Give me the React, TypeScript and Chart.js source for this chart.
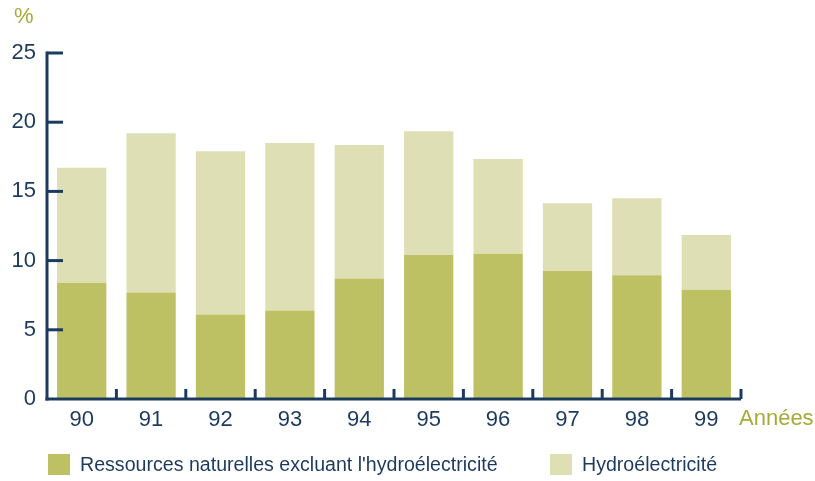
import React, { useEffect, useRef } from "react";
import { Chart, registerables } from "chart.js";

Chart.register(...registerables);

const categories = ["90", "91", "92", "93", "94", "95", "96", "97", "98", "99"];
const naturalResources = [8.4, 7.7, 6.1, 6.4, 8.7, 10.4, 10.5, 9.25, 8.95, 7.9];
const hydro = [8.3, 11.5, 11.8, 12.1, 9.65, 8.95, 6.85, 4.9, 5.55, 3.95];
const yTicks = [0, 5, 10, 15, 20, 25];
const seriesLabels = ["Ressources naturelles excluant l'hydroélectricité", "Hydroélectricité"];
const yUnit = "%";
const xTitle = "Années";

const NAVY = "#1c3a5e";
const OLIVE = "#a4ab38";
const GREEN = "#bdc163";
const LIGHT = "#dfdfb5";
const FONT = "'Liberation Sans', Arial, Helvetica, sans-serif";

export default function App() {
  const ref = useRef<HTMLCanvasElement>(null);
  useEffect(() => {
    const axisPlugin = {
      id: "axisPlugin",
      afterDraw(chart: any) {
        const ctx = chart.ctx;
        const ca = chart.chartArea;
        const x = chart.scales.x;
        const y = chart.scales.y;
        ctx.save();
        ctx.strokeStyle = NAVY;
        ctx.lineWidth = 3;
        ctx.lineCap = "butt";
        // y axis
        ctx.beginPath();
        ctx.moveTo(ca.left, y.getPixelForValue(25) - 1.5);
        ctx.lineTo(ca.left, ca.bottom + 1.5);
        ctx.stroke();
        // x axis
        ctx.beginPath();
        ctx.moveTo(ca.left - 1.5, ca.bottom);
        ctx.lineTo(ca.right, ca.bottom);
        ctx.stroke();
        // y ticks inward
        yTicks.forEach((v) => {
          if (v === 0) return;
          const py = y.getPixelForValue(v);
          ctx.beginPath();
          ctx.moveTo(ca.left, py);
          ctx.lineTo(ca.left + 16, py);
          ctx.stroke();
        });
        // x ticks at category boundaries
        const step = x.getPixelForValue(1) - x.getPixelForValue(0);
        for (let i = 0; i < categories.length; i++) {
          const px = x.getPixelForValue(i) + step / 2;
          ctx.beginPath();
          ctx.moveTo(px, ca.bottom);
          ctx.lineTo(px, ca.bottom - 10);
          ctx.stroke();
        }
        // unit and title
        ctx.fillStyle = OLIVE;
        ctx.font = `22px ${FONT}`;
        ctx.textBaseline = "middle";
        ctx.textAlign = "left";
        ctx.fillText(yUnit, 14, 17);
        ctx.fillText(xTitle, ca.right - 2, 419);
        // legend
        ctx.font = `19.6px ${FONT}`;
        const items = [
          { label: seriesLabels[0], color: GREEN, bx: 48 },
          { label: seriesLabels[1], color: LIGHT, bx: 550 },
        ];
        items.forEach((it) => {
          ctx.fillStyle = it.color;
          ctx.fillRect(it.bx, 454, 22, 21);
          ctx.fillStyle = NAVY;
          ctx.fillText(it.label, it.bx + 32, 466);
        });
        ctx.restore();
      },
    };

    const chart = new Chart(ref.current as HTMLCanvasElement, {
      type: "bar",
      data: {
        labels: categories,
        datasets: [
          { label: seriesLabels[0], data: naturalResources, backgroundColor: GREEN, barPercentage: 0.71, categoryPercentage: 1 },
          { label: seriesLabels[1], data: hydro, backgroundColor: LIGHT, barPercentage: 0.71, categoryPercentage: 1 },
        ],
      },
      options: {
        animation: false,
        responsive: false,
        maintainAspectRatio: false,
        layout: { padding: { left: 0, right: 74, top: 53, bottom: 0 } },
        plugins: { legend: { display: false }, tooltip: { enabled: false } },
        scales: {
          x: {
            stacked: true,
            grid: { display: false, drawTicks: false },
            border: { display: false },
            ticks: { color: NAVY, font: { size: 22, family: FONT }, padding: 8, maxRotation: 0 },
            afterFit: (s: any) => { s.height = 82; },
          },
          y: {
            stacked: true,
            min: 0,
            max: 25,
            grid: { display: false, drawTicks: false },
            border: { display: false },
            afterBuildTicks: (s: any) => { s.ticks = yTicks.map((v) => ({ value: v })); },
            ticks: { color: NAVY, font: { size: 22, family: FONT }, padding: 11 },
            afterFit: (s: any) => { s.width = 47; },
          },
        },
      },
      plugins: [axisPlugin],
    });
    return () => chart.destroy();
  }, []);
  return (
    <div style={{ position: "fixed", left: 0, top: 0, width: 815, height: 481, background: "#fff" }}>
      <canvas ref={ref} width={815} height={481} style={{ width: 815, height: 481 }} />
    </div>
  );
}
